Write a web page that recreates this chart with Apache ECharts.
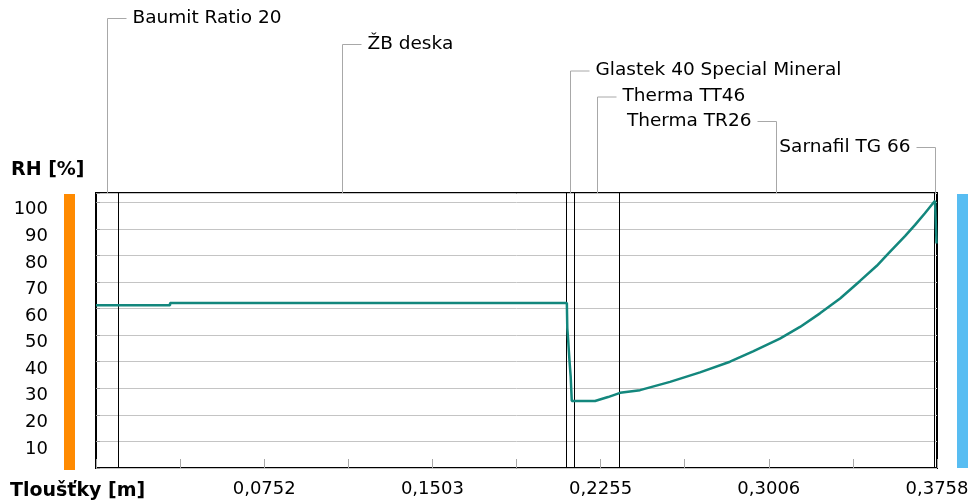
<!DOCTYPE html>
<html>
<head>
<meta charset="utf-8">
<title>RH [%]</title>
<script src="https://cdn.jsdelivr.net/npm/echarts@6/dist/echarts.min.js"></script>
<style>
  html, body { margin: 0; padding: 0; background: #fff; }
  #chart { width: 974px; height: 500px; }
</style>
</head>
<body>
<div id="chart"></div>
<script>
// Layers of the wall assembly (names and boundary depths in metres)
const layerNames = ['Baumit Ratio 20', 'ŽB deska', 'Glastek 40 Special Mineral', 'Therma TT46', 'Therma TR26', 'Sarnafil TG 66'];
const layerBounds = [0, 0.01, 0.21, 0.2136, 0.2337, 0.3744, 0.3758];

// Relative humidity profile across the assembly
const depthM = [0, 0.0331, 0.0331, 0.2104, 0.2106, 0.2110, 0.2116, 0.2121, 0.2126, 0.2133, 0.2230, 0.2288, 0.2342, 0.2431, 0.2565, 0.2699, 0.2833, 0.2936, 0.3056, 0.3146, 0.3235, 0.3325, 0.3414, 0.3489, 0.3540, 0.3615, 0.3660, 0.3704, 0.3749, 0.3756];
const rhPct = [61.3, 61.3, 62.1, 62.1, 52.6, 48.0, 40.0, 34.6, 25.2, 25.2, 25.2, 26.7, 28.3, 29.3, 32.4, 36.0, 40.0, 43.9, 48.7, 53.1, 58.2, 63.8, 70.4, 76.1, 80.7, 87.3, 91.5, 95.9, 100.6, 84.5];

// Axis tick labels
const xStep = 0.03758;
const xTickLabels = ['0,0752', '0,1503', '0,2255', '0,3006', '0,3758'];
const yTickLabels = ['10', '20', '30', '40', '50', '60', '70', '80', '90', '100'];

const FONT = '"DejaVu Sans", Verdana, sans-serif';
const Y_MAX = 103.5;

// Layout of the layer captions above the plot: leader height and side
const captionRowY = [18, 44, 70.5, 96.5, 121, 147];
const captionSide = ['right', 'right', 'right', 'right', 'left', 'left'];

const chart = echarts.init(document.getElementById('chart'), null, { renderer: 'canvas' });

const curve = depthM.map((d, i) => [d, rhPct[i]]);
const boundaries = layerBounds.slice(1, -1).map(b => [b, 0]);
const captions = layerNames.map((n, i) => [(layerBounds[i] + layerBounds[i + 1]) / 2, 0, i]);

chart.setOption({
  animation: false,
  backgroundColor: '#fff',
  grid: {
    left: 96, right: 37, top: 193, bottom: 32,
    show: true, borderColor: '#000', borderWidth: 2, backgroundColor: 'transparent'
  },
  xAxis: {
    type: 'value', min: 0, max: 0.3758, interval: xStep,
    axisLine: { show: false },
    axisTick: { show: true, inside: true, length: 9, lineStyle: { color: '#a8a8a8', width: 1 } },
    splitLine: { show: false },
    axisLabel: {
      margin: 12, color: '#000', fontFamily: FONT, fontSize: 18,
      showMinLabel: true, showMaxLabel: true,
      formatter: function (v) {
        const k = Math.round(v / xStep);
        return (k > 0 && k % 2 === 0) ? xTickLabels[k / 2 - 1] : '';
      }
    }
  },
  yAxis: {
    type: 'value', min: 0, max: Y_MAX, interval: 10,
    axisLine: { show: false },
    axisTick: { show: true, inside: true, length: 4, lineStyle: { color: '#999' } },
    splitLine: { show: true, lineStyle: { color: '#c4c4c4', width: 1 } },
    axisLabel: {
      margin: 48, color: '#000', fontFamily: FONT, fontSize: 18,
      verticalAlign: 'top', lineHeight: 15,
      formatter: function (v) {
        const k = Math.round(v / 10);
        return (Math.abs(v - k * 10) < 1e-6 && k >= 1 && k <= 10) ? yTickLabels[k - 1] : '';
      }
    }
  },
  series: [
    {
      // vertical lines at the layer interfaces
      name: 'layers', type: 'custom', data: boundaries, z: 1, silent: true, clip: false,
      renderItem: function (params, api) {
        const b = api.value(0);
        const p0 = api.coord([b, 0]);
        const p1 = api.coord([b, Y_MAX]);
        const x = Math.round(p0[0]) + 0.5;
        return {
          type: 'line',
          shape: { x1: x, y1: p0[1], x2: x, y2: p1[1] },
          style: { stroke: '#000', lineWidth: 1 }
        };
      }
    },
    {
      name: 'RH', type: 'line', data: curve, z: 3,
      showSymbol: false, symbol: 'none',
      lineStyle: { color: '#13877d', width: 2.5 },
      emphasis: { disabled: true }
    },
    {
      name: 'captions', type: 'custom', data: captions, z: 2, silent: true, clip: false,
      renderItem: function (params, api) {
        const i = api.value(2);
        const p = api.coord([api.value(0), Y_MAX]);
        const x = Math.round(p[0]) + 0.5;
        const top = p[1];
        const yRow = captionRowY[i];
        const dir = captionSide[i] === 'right' ? 1 : -1;
        const hEnd = x + dir * 19;
        return {
          type: 'group',
          children: [
            {
              type: 'polyline',
              shape: { points: [[x, top], [x, yRow + 0.5], [hEnd, yRow + 0.5]] },
              style: { stroke: '#a8a8a8', lineWidth: 1, fill: null }
            },
            {
              type: 'text',
              style: {
                text: layerNames[i],
                x: hEnd + dir * 6, y: yRow,
                align: dir > 0 ? 'left' : 'right',
                verticalAlign: 'middle',
                fontFamily: FONT, fontSize: 18.5, fill: '#000'
              }
            }
          ]
        };
      }
    }
  ],
  graphic: [
    { type: 'rect', shape: { x: 64, y: 194, width: 11, height: 276 }, style: { fill: '#ff8a00' } },
    { type: 'rect', shape: { x: 957, y: 194, width: 11, height: 274 }, style: { fill: '#58bdf2' } },
    {
      type: 'text',
      style: { text: 'RH [%]', x: 11, y: 170, verticalAlign: 'middle', align: 'left',
        fontFamily: FONT, fontWeight: 'bold', fontSize: 19, fill: '#000' }
    },
    {
      type: 'text',
      style: { text: 'Tloušťky [m]', x: 10, y: 491, verticalAlign: 'middle', align: 'left',
        fontFamily: FONT, fontWeight: 'bold', fontSize: 19, fill: '#000' }
    }
  ]
});
</script>
</body>
</html>
